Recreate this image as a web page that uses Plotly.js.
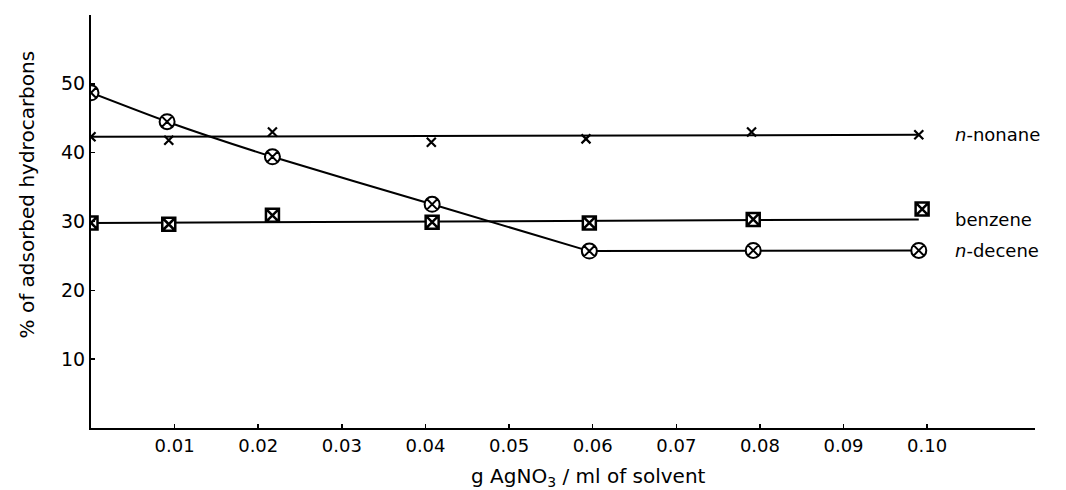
<!DOCTYPE html>
<html>
<head>
<meta charset="utf-8">
<script src="https://cdn.plot.ly/plotly-3.0.1.min.js"></script>
<style>html,body{margin:0;padding:0;background:#fff;}#chart{width:1066px;height:490px;}</style>
</head>
<body>
<div id="chart"></div>
<script>
// Data
const deceneX = [0, 0.0091, 0.0217, 0.0408, 0.0596, 0.0792, 0.0990];
const deceneY = [48.7, 44.5, 39.4, 32.5, 25.7, 25.8, 25.8];
const deceneBend = 4; // index where the curve turns flat

const nonaneX = [0, 0.0093, 0.0217, 0.0407, 0.0592, 0.0790, 0.0990];
const nonaneY = [42.3, 41.8, 43.0, 41.5, 42.0, 43.0, 42.6];
const nonaneFitX = [0, 0.0990];
const nonaneFitY = [42.3, 42.6];

const benzeneX = [0, 0.0093, 0.0217, 0.0408, 0.0596, 0.0792, 0.0994];
const benzeneY = [29.8, 29.6, 30.9, 29.9, 29.8, 30.3, 31.8];
const benzeneFitX = [0, 0.0990];
const benzeneFitY = [29.8, 30.3];

const xTickVals = [0.01, 0.02, 0.03, 0.04, 0.05, 0.06, 0.07, 0.08, 0.09, 0.10];
const xTickText = ["0.01", "0.02", "0.03", "0.04", "0.05", "0.06", "0.07", "0.08", "0.09", "0.10"];
const yTickVals = [10, 20, 30, 40, 50];
const yTickText = ["10", "20", "30", "40", "50"];

const seriesLabels = ["<i>n</i>-nonane", "benzene", "<i>n</i>-decene"];
const labelY = [42.6, 30.3, 25.8];

const FONT = "DejaVu Sans, sans-serif";

const traces = [
  {x: nonaneFitX, y: nonaneFitY, mode: "lines", line: {color: "#000", width: 2}, hoverinfo: "skip"},
  {x: benzeneFitX, y: benzeneFitY, mode: "lines", line: {color: "#000", width: 2}, hoverinfo: "skip"},
  {x: deceneX.slice(0, deceneBend + 1), y: deceneY.slice(0, deceneBend + 1), mode: "lines",
   line: {color: "#000", width: 2, shape: "spline", smoothing: 0.6}},
  {x: deceneX.slice(deceneBend), y: deceneY.slice(deceneBend), mode: "lines",
   line: {color: "#000", width: 2}},
  {x: deceneX, y: deceneY, mode: "markers",
   marker: {symbol: "circle-x", size: 15, color: "#fff", line: {color: "#000", width: 2}}},
  {x: nonaneX, y: nonaneY, mode: "markers",
   marker: {symbol: "x-thin", size: 9, color: "#000", line: {color: "#000", width: 2.2}}},
  {x: benzeneX, y: benzeneY, mode: "markers",
   marker: {symbol: "square-x", size: 13, color: "#fff", line: {color: "#000", width: 2.5}}}
];

const annotations = seriesLabels.map((t, i) => ({
  x: 0.1031, y: labelY[i], xref: "x", yref: "y", text: t, showarrow: false,
  xanchor: "left", yanchor: "middle", font: {family: FONT, size: 18, color: "#000"}
}));
annotations.push({
  xref: "paper", yref: "paper", x: 0.527, y: -0.118, xanchor: "center", yanchor: "middle",
  text: "g AgNO<sub>3</sub> / ml of solvent", showarrow: false,
  font: {family: FONT, size: 20, color: "#000"}
});
annotations.push({
  xref: "paper", yref: "paper", x: -0.068, y: 0.565, xanchor: "center", yanchor: "middle",
  text: "% of adsorbed hydrocarbons", showarrow: false, textangle: -90,
  font: {family: FONT, size: 20, color: "#000"}
});

const layout = {
  width: 1066, height: 490,
  margin: {l: 91, r: 31, t: 15, b: 62},
  paper_bgcolor: "#fff", plot_bgcolor: "#fff",
  showlegend: false,
  font: {family: FONT, color: "#000"},
  xaxis: {
    range: [0, 0.1129], showgrid: false, zeroline: false,
    showline: true, linecolor: "#000", linewidth: 2,
    ticks: "inside", ticklen: 4, tickwidth: 1.5, tickcolor: "#000",
    tickvals: xTickVals, ticktext: xTickText,
    tickfont: {family: FONT, size: 18, color: "#000"}
  },
  yaxis: {
    range: [0, 60], showgrid: false, zeroline: false,
    showline: true, linecolor: "#000", linewidth: 2,
    ticks: "inside", ticklen: 4, tickwidth: 1.5, tickcolor: "#000",
    tickvals: yTickVals, ticktext: yTickText,
    tickfont: {family: FONT, size: 19, color: "#000"}
  },
  annotations: annotations
};

Plotly.newPlot("chart", traces, layout, {staticPlot: true, displayModeBar: false});
</script>
</body>
</html>
